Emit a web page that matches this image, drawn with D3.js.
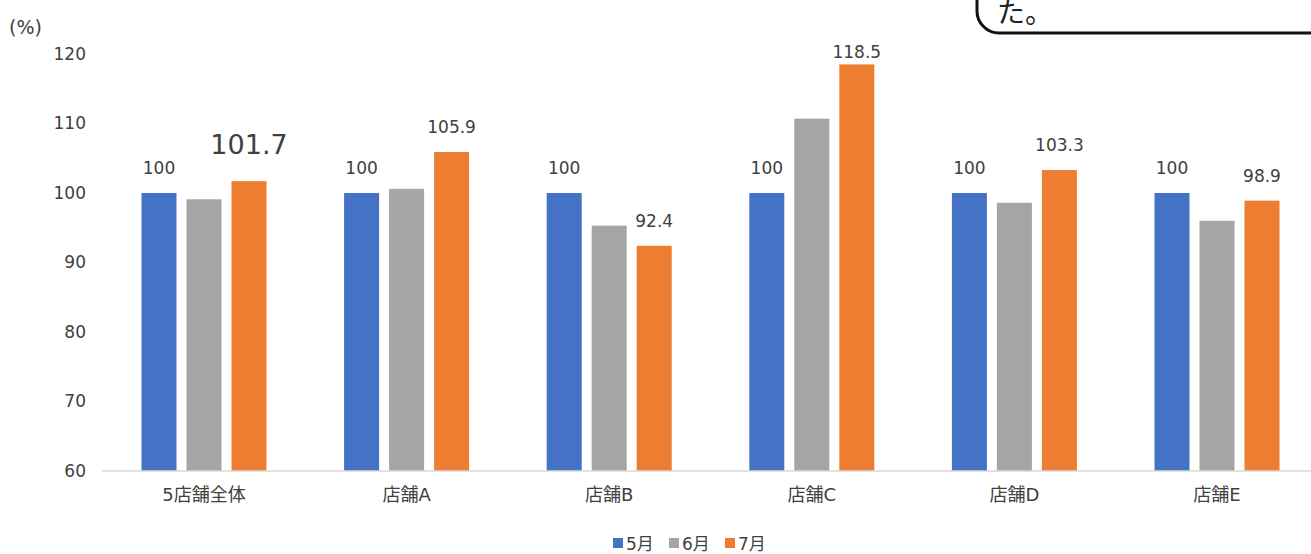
<!DOCTYPE html>
<html><head><meta charset="utf-8">
<script src="https://cdn.jsdelivr.net/npm/d3@7"></script>
<style>
html,body{margin:0;padding:0;background:#fff;overflow:hidden;}
svg{display:block;font-family:"DejaVu Sans","Noto Sans CJK JP",sans-serif;}
</style></head>
<body>
<svg id="chart" width="1311" height="554"></svg>
<script>
const categories = ["5店舗全体","店舗A","店舗B","店舗C","店舗D","店舗E"];
const seriesNames = ["5月","6月","7月"];
const may = [100,100,100,100,100,100];
const jun = [99.1,100.6,95.3,110.7,98.6,96.0];
const jul = [101.7,105.9,92.4,118.5,103.3,98.9];
const yTicks = [60,70,80,90,100,110,120];
const colors = ["#4472C4","#A5A5A5","#ED7D31"];

const FONT = "'DejaVu Sans','Noto Sans CJK JP',sans-serif";
const svg = d3.select("#chart");
const textColor = "#404040";

const y = d3.scaleLinear().domain([60,120]).range([471,54]);
const x0 = d3.scaleBand().domain(categories).range([102.7,1318.3]).padding(0);
const x1 = d3.scaleBand().domain(seriesNames).range([0,125]).paddingInner(10/45).paddingOuter(0);
const groupOffset = (x0.bandwidth()-125)/2;

const seriesVals = [may,jun,jul];
const rows = [];
categories.forEach((c,i)=>seriesNames.forEach((s,j)=>rows.push({c,s,j,v:seriesVals[j][i]})));

// bars
svg.append("g").selectAll("rect").data(rows).join("rect")
  .attr("x",d=>x0(d.c)+groupOffset+x1(d.s))
  .attr("y",d=>y(d.v))
  .attr("width",x1.bandwidth())
  .attr("height",d=>y(60)-y(d.v))
  .attr("fill",d=>colors[d.j]);

// baseline
svg.append("line").attr("x1",102).attr("x2",1311).attr("y1",y(60)).attr("y2",y(60))
  .attr("stroke","#D9D9D9").attr("stroke-width",1.5);

// y axis
const yAxis = d3.axisLeft(y).tickValues(yTicks).tickSize(0).tickPadding(0);
const gy = svg.append("g").attr("transform","translate(86,0)").call(yAxis);
gy.select(".domain").remove();
gy.selectAll("text").attr("font-size",17).attr("fill",textColor).attr("font-family",FONT);

// x axis labels
const xAxis = d3.axisBottom(x0).tickSize(0).tickPadding(0);
const gx = svg.append("g").attr("transform","translate(0,488)").call(xAxis);
gx.select(".domain").remove();
gx.selectAll("text").attr("font-size",18).attr("fill",textColor).attr("font-family",FONT);

// data labels (5月 and 7月)
const labelRows = rows.filter(d=>d.j!==1);
svg.append("g").selectAll("text").data(labelRows).join("text")
  .attr("x",d=>x0(d.c)+groupOffset+x1(d.s)+x1.bandwidth()/2)
  .attr("y",d=>{
     const big = d.c===categories[0] && d.j===2;
     if(big) return y(d.v)-27;
     return Math.max(y(d.v)-19, 58);
  })
  .attr("text-anchor","middle")
  .attr("font-size",d=>(d.c===categories[0]&&d.j===2)?27:17)
  .attr("fill",textColor)
  .text(d=>d.v);

// unit label
svg.append("text").attr("x",9).attr("y",34).attr("font-size",19).attr("fill",textColor).text("(%)");

// legend
const legend = svg.append("g").attr("transform","translate(613,543)");
const legX = [0,56,112];
seriesNames.forEach((s,j)=>{
  const g = legend.append("g").attr("transform",`translate(${legX[j]},0)`);
  g.append("rect").attr("x",0).attr("y",-5).attr("width",10).attr("height",10).attr("fill",colors[j]);
  g.append("text").attr("x",13).attr("y",7).attr("font-size",17).attr("fill",textColor).text(s);
});

// callout box at top right (partially visible)
svg.append("rect").attr("x",977).attr("y",-60).attr("width",400).attr("height",93)
  .attr("rx",22).attr("ry",22).attr("fill","#fff").attr("stroke","#111").attr("stroke-width",3);
svg.append("text").attr("x",997).attr("y",23).attr("font-size",28).attr("fill","#222")
  .attr("font-family","'Noto Sans CJK JP',sans-serif").text("た。");
</script>
</body></html>
